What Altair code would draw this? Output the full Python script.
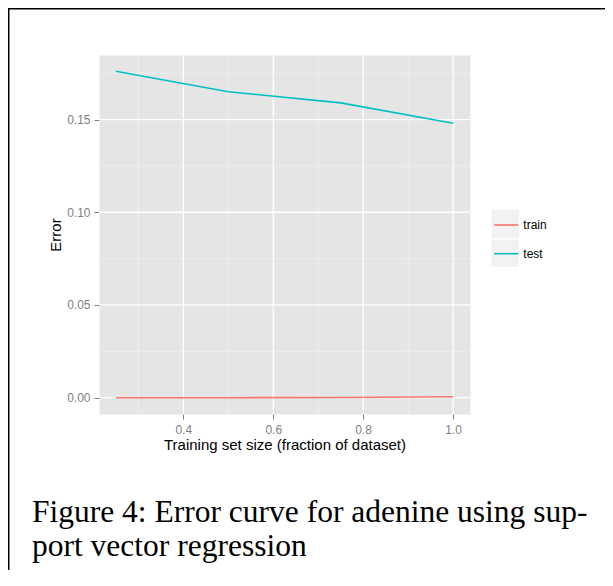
import altair as alt
import pandas as pd

# ---- data ----
sizes = [0.25, 0.5, 0.75, 1.0]
train_err = [0.0, 0.0, 0.0001, 0.0005]
test_err = [0.176, 0.165, 0.159, 0.148]
series_names = ["train", "test"]
series_colors = ["#F8766D", "#00BFC4"]

x_ticks = [0.4, 0.6, 0.8, 1.0]
x_minor = [0.3, 0.5, 0.7, 0.9]
y_ticks = [0.0, 0.05, 0.10, 0.15]
y_minor = [0.025, 0.075, 0.125, 0.175]

caption_lines = ["Figure 4: Error curve for adenine using sup-", "port vector regression"]

x_title = "Training set size (fraction of dataset)"
y_title = "Error"

# ---- layout ----
W, H = 371, 359
PAD = {"left": 91, "top": 47, "right": 135, "bottom": 156}
SANS = "Liberation Sans"
SERIF = "Liberation Serif"

xs = alt.Scale(domain=[0.2125, 1.0375], nice=False, zero=False)
ys = alt.Scale(domain=[-0.0088, 0.1848], nice=False, zero=False)

x_axis = alt.Axis(
    values=x_ticks, format=".1f", grid=False, domain=False,
    tickColor="#7F7F7F", tickSize=5, tickWidth=1,
    labelColor="#7F7F7F", labelFont=SANS, labelFontSize=12,
    labelBaseline="alphabetic", labelPadding=14,
    title=x_title, titleFont=SANS, titleFontSize=15, titleFontWeight="normal",
    titleColor="black", titleX=185.5, titleY=35.5, titleAlign="center",
    titleBaseline="alphabetic",
)
y_axis = alt.Axis(
    values=y_ticks, format=".2f", grid=False, domain=False,
    tickColor="#7F7F7F", tickSize=5, tickWidth=1,
    labelColor="#7F7F7F", labelFont=SANS, labelFontSize=12, labelPadding=4,
    title=y_title, titleFont=SANS, titleFontSize=15, titleFontWeight="normal",
    titleColor="black", titleX=-38.5, titleY=179.5, titleAngle=270,
    titleAlign="center", titleBaseline="alphabetic",
)

df = pd.DataFrame({
    "size": sizes * 2,
    "error": train_err + test_err,
    "series": ["train"] * len(sizes) + ["test"] * len(sizes),
})

minor_x_rules = alt.Chart(pd.DataFrame({"gx": x_minor})).mark_rule(
    color="#F2F2F2", strokeWidth=0.7
).encode(x=alt.X("gx:Q", scale=xs, axis=x_axis))
minor_y_rules = alt.Chart(pd.DataFrame({"gy": y_minor})).mark_rule(
    color="#F2F2F2", strokeWidth=0.7
).encode(y=alt.Y("gy:Q", scale=ys, axis=y_axis))
major_x_rules = alt.Chart(pd.DataFrame({"gx": x_ticks})).mark_rule(
    color="white", strokeWidth=1.3
).encode(x=alt.X("gx:Q", scale=xs, axis=x_axis))
major_y_rules = alt.Chart(pd.DataFrame({"gy": y_ticks})).mark_rule(
    color="white", strokeWidth=1.3
).encode(y=alt.Y("gy:Q", scale=ys, axis=y_axis))

key_bg = pd.DataFrame({"k": [0]})
key1 = alt.Chart(key_bg).mark_rect(color="#F2F2F2").encode(
    x=alt.value(392.5), x2=alt.value(420), y=alt.value(154.5), y2=alt.value(183)
)
key2 = alt.Chart(key_bg).mark_rect(color="#F2F2F2").encode(
    x=alt.value(392.5), x2=alt.value(420), y=alt.value(184.5), y2=alt.value(212)
)

lines = alt.Chart(df).mark_line(strokeWidth=1.6).encode(
    x=alt.X("size:Q", scale=xs, axis=x_axis),
    y=alt.Y("error:Q", scale=ys, axis=y_axis),
    color=alt.Color("series:N", scale=alt.Scale(domain=series_names, range=series_colors),
                    legend=alt.Legend(
                        orient="none", legendX=394.3, legendY=157, title=None,
                        symbolType="stroke", symbolSize=576, symbolStrokeWidth=1.6,
                        labelFont=SANS, labelFontSize=12, labelColor="black",
                        labelOffset=4, rowPadding=9.7, padding=0,
                    )),
    order=alt.Order("size:Q"),
)

cap_df = pd.DataFrame({"t": caption_lines, "i": [0, 1]})
cap1 = alt.Chart(cap_df).transform_filter("datum.i == 0").mark_text(
    align="left", baseline="alphabetic", font=SERIF, fontSize=31.5, color="black"
).encode(x=alt.value(-67), y=alt.value(467), text="t:N")
cap2 = alt.Chart(cap_df).transform_filter("datum.i == 1").mark_text(
    align="left", baseline="alphabetic", font=SERIF, fontSize=31.5, color="black"
).encode(x=alt.value(-67), y=alt.value(501), text="t:N")

frame_df = pd.DataFrame({"f": [0]})
frame_left = alt.Chart(frame_df).mark_rule(color="black", strokeWidth=1.5).encode(
    x=alt.value(-90.25), y=alt.value(-47), y2=alt.value(H + PAD["bottom"])
)
frame_top = alt.Chart(frame_df).mark_rule(color="black", strokeWidth=1.5).encode(
    x=alt.value(-91), x2=alt.value(W + PAD["right"]), y=alt.value(-46.25)
)

chart = alt.layer(
    minor_x_rules, minor_y_rules, major_x_rules, major_y_rules,
    key1, key2, lines, cap1, cap2, frame_left, frame_top,
).properties(
    width=W, height=H,
    autosize=alt.AutoSizeParams(type="none"),
    padding=PAD,
    background="white",
).configure_view(
    fill="#E5E5E5", strokeOpacity=0
)

chart.save("out.html", embed_options={"renderer": "svg", "actions": False})
